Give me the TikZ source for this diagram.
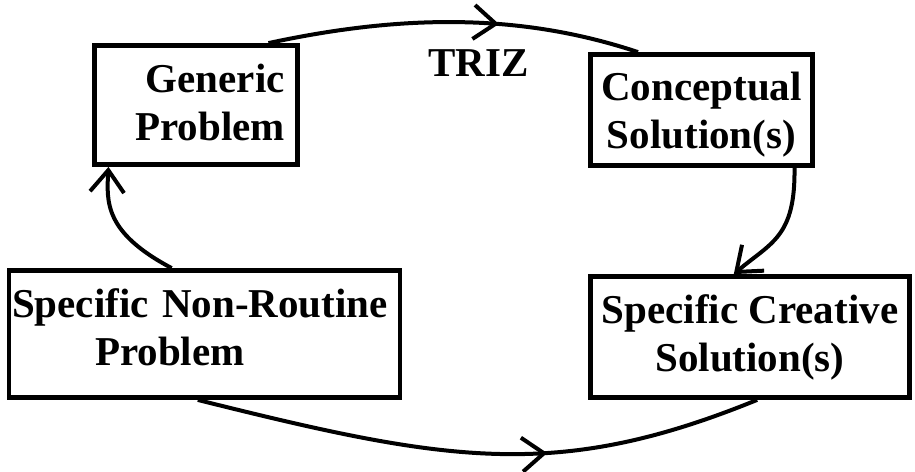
\documentclass[tikz,border=0pt]{standalone}
\usepackage{fontspec}
\setmainfont{Liberation Serif}
\usepackage{tikz}
\usetikzlibrary{arrows.meta,calc,decorations.markings}

\begin{document}
\begin{tikzpicture}[x=0.5pt, y=-0.5pt,
  stage/.style={draw, line width=2.4pt, inner sep=0pt, font=\bfseries\fontsize{20.5}{24}\selectfont},
  link/.style={line width=2pt, -{Straight Barb[length=11pt,width=17pt]}},
  midlink/.style={line width=2pt, postaction={decorate},
    decoration={markings, mark=at position #1 with {\arrow{Straight Barb[length=11pt,width=17pt]}}}}]

\useasboundingbox (0,0) rectangle (915,471);

% Problem and solution boxes
\node[stage, minimum width=101.5pt, minimum height=59.5pt, text width=89pt, align=right, text depth=27pt] (gen) at (195.75,105) {Generic\\Problem};
\node[stage, minimum width=111pt, minimum height=55.5pt, align=center, text depth=0pt] (conc) at (701.5,110) {Conceptual\\Solution(s)};
\node[stage, minimum width=195.5pt, minimum height=63.5pt, text width=192.5pt, align=left, text depth=31pt] (nrp) at (204.5,334) {Specific Non-Routine\\\hspace*{41.5pt}Problem};
\node[stage, minimum width=159.5pt, minimum height=60.5pt, align=center] (scs) at (750,337) {Specific Creative\\Solution(s)};

% Label of the top path
\node[font=\bfseries\fontsize{20.5}{24}\selectfont, anchor=base] (triz) at (478.5,76) {TRIZ};

% Cycle of arrows
\draw[midlink=0.62] ($(gen.north west)!0.85!(gen.north east)$) .. controls +(130,-28) and +(-120,-40) .. ($(conc.north west)!0.22!(conc.north east)$);
\draw[link] ($(conc.south west)!0.91!(conc.south east)$) .. controls +(1,69.5) and +(37,-31.5) .. ($(scs.north west)!0.45!(scs.north east)$);
\draw[midlink=0.62] ($(nrp.south west)!0.483!(nrp.south east)$) .. controls +(250,62.5) and +(-200,81.5) .. ($(scs.south west)!0.522!(scs.south east)$);
\draw[link] ($(nrp.north west)!0.417!(nrp.north east)$) .. controls +(-67,-35.5) and +(-2,35.5) .. ($(gen.south west)!0.08!(gen.south east)$);

\end{tikzpicture}
\end{document}
